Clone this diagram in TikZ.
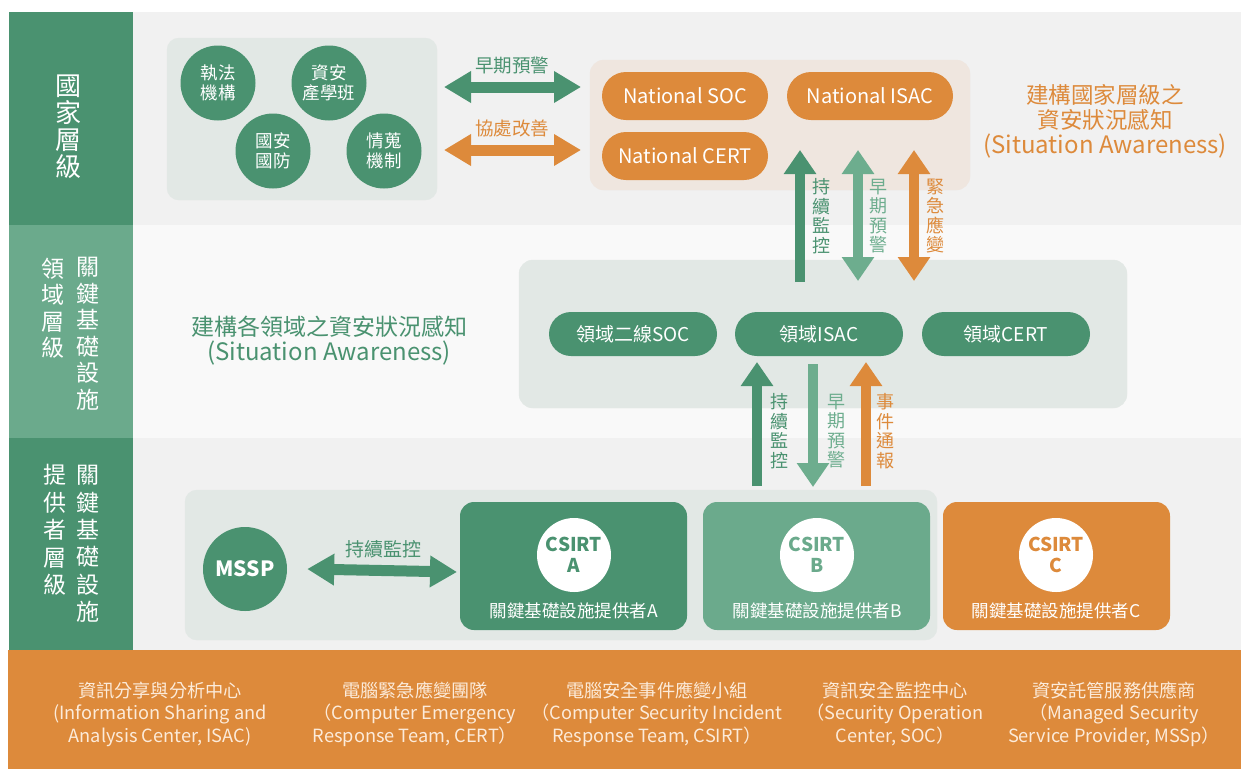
\documentclass[tikz,border=0pt]{standalone}
\usepackage{fontspec}
\setmainfont{Noto Sans CJK TC}
\usetikzlibrary{arrows.meta,positioning}

\definecolor{darkgreen}{HTML}{4A9270}
\definecolor{midgreen}{HTML}{6BAA8C}
\definecolor{warngreen}{HTML}{6DAD8E}
\definecolor{orangec}{HTML}{DD8A3B}
\definecolor{bandgray}{HTML}{F1F1F1}
\definecolor{bandlight}{HTML}{F9F9F9}
\definecolor{boxgray}{HTML}{E2E8E5}
\definecolor{boxbeige}{HTML}{EFE6DF}
\definecolor{foottext}{HTML}{FCEBDA}

\tikzset{
  orgcircle/.style={circle,fill=darkgreen,text=white,minimum size=75pt,inner sep=0pt,
    align=center,font=\fontsize{17.5}{20.5}\selectfont},
  natpill/.style={rectangle,rounded corners=24pt,fill=orangec,text=white,
    minimum width=166pt,minimum height=48pt,font=\fontsize{20}{22}\selectfont},
  dompill/.style={rectangle,rounded corners=22pt,fill=darkgreen,text=white,
    minimum width=168pt,minimum height=44pt,font=\fontsize{19}{21}\selectfont},
  provbox/.style={rectangle,rounded corners=14pt,minimum width=227pt,minimum height=128pt},
  csirt/.style={circle,fill=white,minimum size=74pt,inner sep=0pt,align=center,
    font=\bfseries\fontsize{19}{21}\selectfont},
  provtext/.style={text=white,font=\fontsize{17.5}{19}\selectfont},
  vlabel/.style={align=center,inner sep=0pt,font=\fontsize{18}{19.5}\selectfont},
  sidelabel/.style={align=center,inner sep=0pt,text=white},
  footnote/.style={align=center,text=foottext,font=\fontsize{18.2}{22.5}\selectfont},
  bigarrow/.style={line width=10pt,-{Triangle[length=24pt,width=31pt]}},
  dblarrow/.style={line width=10pt,{Triangle[length=24pt,width=31pt]}-{Triangle[length=24pt,width=31pt]}},
  widearrow/.style={line width=11pt,{Triangle[length=27pt,width=30pt]}-{Triangle[length=27pt,width=30pt]}}
}

\begin{document}
\begin{tikzpicture}[x=1pt,y=-1pt]
  \useasboundingbox (0,0) rectangle (1241,769);
  \fill[white] (0,0) rectangle (1241,769);

  \fill[bandgray] (133,12) rectangle (1241,225);
  \fill[bandlight] (133,225) rectangle (1241,438);
  \fill[bandgray] (133,438) rectangle (1241,650);
  \fill[darkgreen] (9,12) rectangle (133,225);
  \fill[midgreen] (9,225) rectangle (133,438);
  \fill[darkgreen] (9,438) rectangle (133,650);
  \fill[orangec] (8,650) rectangle (1241,769);

  \node[sidelabel,font=\fontsize{26}{27}\selectfont] (lvlnat) at (68,127) {國\\家\\層\\級};
  \node[sidelabel,font=\fontsize{23}{26.5}\selectfont] (lvldomA) at (88,334) {關\\鍵\\基\\礎\\設\\施};
  \node[sidelabel,font=\fontsize{23}{26.5}\selectfont] (lvldomB) at (53,308) {領\\域\\層\\級};
  \node[sidelabel,font=\fontsize{23}{27.4}\selectfont] (lvlprovA) at (88,544) {關\\鍵\\基\\礎\\設\\施};
  \node[sidelabel,font=\fontsize{23}{27.4}\selectfont] (lvlprovB) at (55,530) {提\\供\\者\\層\\級};

  \draw[boxgray,fill=boxgray,rounded corners=12pt] (167,38) rectangle (437,200);
  \draw[boxbeige,fill=boxbeige,rounded corners=14pt] (590,60) rectangle (970,190);
  \draw[boxgray,fill=boxgray,rounded corners=14pt] (519,260) rectangle (1127,408);
  \draw[boxgray,fill=boxgray,rounded corners=12pt] (185,490) rectangle (937,640);

  \node[orgcircle] (law) at (218,83) {執法\\機構};
  \node[orgcircle] (acad) at (329,83) {資安\\產學班};
  \node[orgcircle] (defense) at (273,151) {國安\\國防};
  \node[orgcircle] (intel) at (384,151) {情蒐\\機制};

  \node[natpill] (natsoc) at (685,96) {National SOC};
  \node[natpill] (natisac) at (870,96) {National ISAC};
  \node[natpill] (natcert) at (685,156) {National CERT};

  \node[align=center,text=orangec,font=\fontsize{22.5}{25}\selectfont] (natsa) at (1105,121)
    {建構國家層級之\\資安狀況感知\\\fontsize{24}{25}\selectfont(Situation Awareness)};

  \coordinate (warnL) at (444,87);
  \coordinate (warnR) at (581,87);
  \coordinate (fixL) at (444,150);
  \coordinate (fixR) at (581,150);
  \draw[widearrow,darkgreen] (warnL) -- (warnR);
  \draw[widearrow,orangec] (fixL) -- (fixR);
  \node[text=darkgreen,font=\fontsize{18.5}{20}\selectfont] (warnlbl) at (512,65) {早期預警};
  \node[text=orangec,font=\fontsize{18.5}{20}\selectfont] (fixlbl) at (512,128) {協處改善};

  \node[align=center,text=darkgreen,font=\fontsize{23}{25}\selectfont] (domsa) at (329,341)
    {建構各領域之資安狀況感知\\\fontsize{24}{25}\selectfont(Situation Awareness)};

  \node[dompill] (domsoc) at (633,334) {領域二線SOC};
  \node[dompill] (domisac) at (819,334) {領域ISAC};
  \node[dompill] (domcert) at (1006,334) {領域CERT};

  \coordinate (monA) at (800,282);
  \coordinate (monB) at (800,150);
  \coordinate (alertA) at (858,150);
  \coordinate (alertB) at (858,281);
  \coordinate (emerA) at (914,150);
  \coordinate (emerB) at (914,281);
  \draw[bigarrow,darkgreen] (monA) -- (monB);
  \draw[dblarrow,warngreen] (alertA) -- (alertB);
  \draw[dblarrow,orangec] (emerA) -- (emerB);
  \node[vlabel,text=darkgreen] (monlbl) at (821,216) {持\\續\\監\\控};
  \node[vlabel,text=warngreen] (alertlbl) at (878,216) {早\\期\\預\\警};
  \node[vlabel,text=orangec] (emerlbl) at (935,216) {緊\\急\\應\\變};

  \coordinate (mon2A) at (757,486);
  \coordinate (mon2B) at (757,362);
  \coordinate (alert2A) at (813,364);
  \coordinate (alert2B) at (813,487);
  \coordinate (rep2A) at (866,486);
  \coordinate (rep2B) at (866,362);
  \draw[bigarrow,darkgreen] (mon2A) -- (mon2B);
  \draw[bigarrow,warngreen] (alert2A) -- (alert2B);
  \draw[bigarrow,orangec] (rep2A) -- (rep2B);
  \node[vlabel,text=darkgreen] (mon2lbl) at (779,431) {持\\續\\監\\控};
  \node[vlabel,text=warngreen] (alert2lbl) at (836,431) {早\\期\\預\\警};
  \node[vlabel,text=orangec] (rep2lbl) at (885,431) {事\\件\\通\\報};

  \node[circle,fill=darkgreen,text=white,minimum size=84pt,inner sep=0pt,
    font=\bfseries\fontsize{21}{23}\selectfont] (mssp) at (245,569) {MSSP};
  \draw[widearrow,darkgreen] ([xshift=20pt]mssp.east) -- (457,572);
  \node[text=darkgreen,font=\fontsize{19}{21}\selectfont] (msspmon) at (383,549) {持續監控};

  \node[provbox,fill=darkgreen] (provA) at (573.5,566) {};
  \node[provbox,fill=midgreen] (provB) at (816.5,566) {};
  \node[provbox,fill=orangec] (provC) at (1056.5,566) {};
  \node[csirt,text=darkgreen] (csirtA) at (574,555) {CSIRT\\A};
  \node[csirt,text=midgreen] (csirtB) at (817,555) {CSIRT\\B};
  \node[csirt,text=orangec] (csirtC) at (1056,555) {CSIRT\\C};
  \node[provtext] (provAlbl) at (574,611) {關鍵基礎設施提供者A};
  \node[provtext] (provBlbl) at (817,611) {關鍵基礎設施提供者B};
  \node[provtext] (provClbl) at (1056,611) {關鍵基礎設施提供者C};

  \node[footnote] (ftisac) at (160,714) {資訊分享與分析中心\\(Information Sharing and\\Analysis Center, ISAC)};
  \node[footnote] (ftcert) at (415,714) {電腦緊急應變團隊\\（Computer Emergency\\Response Team, CERT）};
  \node[footnote] (ftcsirt) at (657,714) {電腦安全事件應變小組\\（Computer Security Incident\\Response Team, CSIRT）};
  \node[footnote] (ftsoc) at (895,714) {資訊安全監控中心\\（Security Operation\\Center, SOC）};
  \node[footnote] (ftmssp) at (1114,714) {資安託管服務供應商\\（Managed Security\\Service Provider, MSSp）};
\end{tikzpicture}
\end{document}
